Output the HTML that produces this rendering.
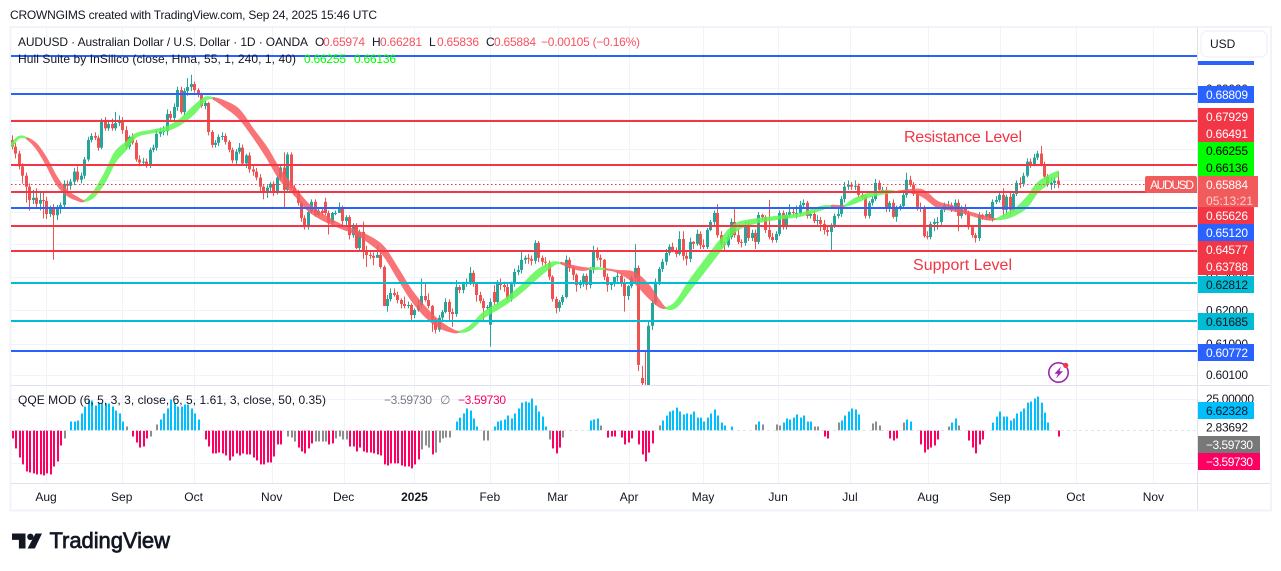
<!DOCTYPE html>
<html lang="en">
<head>
<meta charset="utf-8">
<title>AUDUSD chart</title>
<style>
html,body{margin:0;padding:0;background:#fff;}
svg{display:block;font-family:"Liberation Sans",sans-serif;}
text{fill:#131722;font-size:12px;}
.up{fill:#f7525f;}
.gr{fill:#00ff00;}
.ax{font-size:12px;}
</style>
</head>
<body>
<svg id="c" width="1281" height="571" viewBox="0 0 1281 571" xmlns="http://www.w3.org/2000/svg">
  <defs>
    <clipPath id="paneClip"><rect x="11" y="28" width="1186" height="357"/></clipPath>
  </defs>
  <text x="10" y="19" textLength="367">CROWNGIMS created with TradingView.com, Sep 24, 2025 15:46 UTC</text>
  <rect x="10.5" y="27" width="1260.5" height="483.5" fill="none" stroke="#f0f3fa" stroke-width="2"/>
  <g id="grid"></g>
  <g id="candles" clip-path="url(#paneClip)"></g>
  <g id="hull" clip-path="url(#paneClip)"></g>
  <g id="qqe"></g>
  <g id="hlines"></g>
  <line x1="11" x2="1197" y1="430.5" y2="430.5" stroke="#e0e3eb" stroke-dasharray="3 3"/>
  <line id="lastLine" x1="11" x2="1146" stroke="#f23645" stroke-dasharray="1.5 2.5"/>

  <line x1="11" x2="1197" y1="385.5" y2="385.5" stroke="#e0e3eb"/>
  <line x1="11" x2="1270" y1="483.5" y2="483.5" stroke="#e0e3eb"/>
  <line x1="1197.5" x2="1197.5" y1="28" y2="510" stroke="#e0e3eb"/>
  <line x1="1197" x2="1270" y1="385.5" y2="385.5" stroke="#e0e3eb"/>
  <g id="axisTicks"></g>
  <g id="timeLabels"></g>

  <g>
    <text x="18" y="46" textLength="290">AUDUSD · Australian Dollar / U.S. Dollar · 1D · OANDA</text>
    <text x="315" y="46">O</text>
    <text x="323" y="46" class="up" textLength="42">0.65974</text>
    <text x="372" y="46">H</text>
    <text x="380" y="46" class="up" textLength="42">0.66281</text>
    <text x="429" y="46">L</text>
    <text x="437" y="46" class="up" textLength="42">0.65836</text>
    <text x="486" y="46">C</text>
    <text x="494" y="46" class="up" textLength="42">0.65884</text>
    <text x="541" y="46" class="up" textLength="99">−0.00105 (−0.16%)</text>
    <text x="18" y="63" textLength="278">Hull Suite by InSilico (close, Hma, 55, 1, 240, 1, 40)</text>
    <text x="304" y="63" class="gr" textLength="42">0.66255</text>
    <text x="354" y="63" class="gr" textLength="42">0.66136</text>
  </g>
  <g>
    <text x="18" y="404" textLength="308">QQE MOD (6, 5, 3, 3, close, 6, 5, 1.61, 3, close, 50, 0.35)</text>
    <text x="384" y="404" textLength="48" style="fill:#787b86">−3.59730</text>
    <text x="440" y="404" style="fill:#787b86">∅</text>
    <text x="458" y="404" textLength="48" style="fill:#ff0062">−3.59730</text>
  </g>
  <text x="904" y="142" textLength="118" style="fill:#f23645;font-size:16px">Resistance Level</text>
  <text x="913" y="270" textLength="99" style="fill:#f23645;font-size:16px">Support Level</text>

  <g>
    <circle cx="1058.5" cy="372.5" r="9.7" fill="none" stroke="#9c27b0" stroke-width="1.6"/>
    <polygon points="1061,366.5 1054.5,373.8 1058,373.8 1056,378.5 1063,371.2 1059.4,371.2" fill="#9c27b0"/>
    <circle cx="1065.7" cy="365.4" r="2.6" fill="#f23645"/>
  </g>

  <g>
    <rect x="1201" y="31" width="66" height="26" rx="6" fill="#fff" stroke="#f0f3fa" stroke-width="1.5"/>
    <text x="1210" y="48">USD</text>
  </g>

  <g id="axisBoxes"></g>
  <rect x="1145" y="176" width="52" height="17" rx="2" fill="#f15b5b"/>
  <text x="1150" y="189" textLength="44" style="fill:#fff">AUDUSD</text>

  <g>
    <path d="M12 533.5h13.5v15h-6.6v-8.6H12z" fill="#131722"/>
    <circle cx="30.4" cy="536.8" r="3.2" fill="#131722"/>
    <polygon points="35.5,533.5 42,533.5 34.8,548.5 27.6,548.5" fill="#131722"/>
    <text x="49.5" y="548" textLength="120.5" style="font-size:22px;stroke:#131722;stroke-width:.7">TradingView</text>
  </g>
</svg>

<script>
const opens = [
.6730,.6708,.6686,.6645,.6615,.6580,.6538,.6545,.6526,.6538,
.6535,.6494,.6510,.6490,.6516,.6522,.6589,.6583,.6596,.6628,
.6602,.6615,.6667,.6730,.6743,.6737,.6705,.6789,.6768,.6782,
.6768,.6785,.6795,.6762,.6708,.6740,.6721,.6667,.6657,.6660,
.6651,.6698,.6705,.6750,.6759,.6759,.6815,.6802,.6838,.6894,
.6821,.6891,.6904,.6914,.6894,.6878,.6841,.6851,.6756,.6714,
.6721,.6740,.6743,.6724,.6698,.6664,.6692,.6705,.6654,.6680,
.6635,.6628,.6609,.6580,.6561,.6577,.6589,.6561,.6609,.6641,
.6570,.6683,.6577,.6564,.6529,.6481,.6453,.6500,.6532,.6491,
.6504,.6532,.6497,.6466,.6497,.6497,.6513,.6472,.6484,.6428,
.6456,.6388,.6438,.6376,.6367,.6364,.6358,.6367,.6330,.6212,
.6233,.6251,.6245,.6230,.6218,.6212,.6215,.6185,.6200,.6215,
.6242,.6230,.6212,.6171,.6141,.6177,.6194,.6224,.6194,.6188,
.6269,.6260,.6278,.6282,.6312,.6278,.6245,.6227,.6206,.6156,
.6254,.6224,.6282,.6275,.6269,.6236,.6278,.6315,.6321,.6352,
.6358,.6355,.6349,.6404,.6358,.6346,.6343,.6300,.6233,.6206,
.6224,.6239,.6352,.6327,.6306,.6275,.6282,.6303,.6275,.6321,
.6382,.6358,.6352,.6300,.6275,.6282,.6300,.6303,.6282,.6242,
.6272,.6297,.6327,.6000,.5975,.5950,.6153,.6221,.6285,.6324,
.6346,.6373,.6392,.6382,.6370,.6416,.6364,.6355,.6407,.6401,
.6432,.6397,.6391,.6444,.6469,.6497,.6428,.6401,.6397,.6422,
.6469,.6428,.6407,.6404,.6460,.6419,.6435,.6407,.6491,.6484,
.6444,.6422,.6413,.6432,.6497,.6453,.6491,.6500,.6497,.6497,
.6522,.6529,.6488,.6494,.6472,.6475,.6463,.6444,.6438,.6460,
.6488,.6494,.6541,.6580,.6586,.6580,.6583,.6554,.6548,.6488,
.6529,.6541,.6592,.6570,.6570,.6510,.6529,.6485,.6513,.6519,
.6554,.6602,.6586,.6557,.6516,.6510,.6425,.6422,.6463,.6469,
.6469,.6507,.6522,.6522,.6507,.6529,.6488,.6513,.6497,.6453,
.6428,.6419,.6491,.6484,.6494,.6481,.6532,.6538,.6554,.6507,
.6548,.6507,.6557,.6592,.6589,.6615,.6660,.6651,.6673,.6686,
.6651,.6612,.6586,.6592,.6599];
const highs = [
.6745,.6720,.6695,.6655,.6625,.6590,.6570,.6575,.6560,.6565,
.6548,.6520,.6525,.6522,.6530,.6600,.6600,.6605,.6640,.6645,
.6625,.6675,.6740,.6752,.6755,.6745,.6800,.6805,.6795,.6800,
.6822,.6810,.6805,.6775,.6745,.6752,.6730,.6680,.6672,.6670,
.6705,.6715,.6765,.6770,.6775,.6830,.6825,.6850,.6905,.6905,
.6900,.6934,.6945,.6922,.6900,.6885,.6860,.6855,.6762,.6730,
.6748,.6755,.6752,.6730,.6705,.6700,.6720,.6715,.6685,.6690,
.6650,.6640,.6620,.6585,.6585,.6595,.6597,.6615,.6650,.6690,
.6690,.6690,.6585,.6570,.6535,.6490,.6505,.6540,.6540,.6510,
.6515,.6545,.6505,.6500,.6505,.6530,.6520,.6490,.6490,.6465,
.6465,.6445,.6470,.6395,.6375,.6375,.6395,.6375,.6335,.6245,
.6265,.6265,.6255,.6235,.6240,.6225,.6220,.6205,.6230,.6295,
.6282,.6250,.6215,.6175,.6185,.6200,.6235,.6232,.6205,.6290,
.6275,.6285,.6295,.6330,.6320,.6285,.6255,.6235,.6215,.6235,
.6275,.6290,.6295,.6285,.6280,.6285,.6325,.6335,.6376,.6365,
.6370,.6365,.6412,.6410,.6365,.6360,.6350,.6305,.6240,.6230,
.6245,.6365,.6360,.6335,.6310,.6290,.6310,.6310,.6330,.6395,
.6390,.6368,.6355,.6310,.6285,.6295,.6315,.6310,.6295,.6275,
.6305,.6400,.6335,.6035,.6082,.6165,.6230,.6295,.6330,.6355,
.6385,.6400,.6405,.6390,.6440,.6440,.6375,.6420,.6410,.6445,
.6440,.6415,.6450,.6475,.6505,.6525,.6440,.6410,.6430,.6480,
.6510,.6445,.6415,.6470,.6470,.6445,.6445,.6500,.6495,.6490,
.6538,.6435,.6440,.6505,.6505,.6500,.6525,.6510,.6520,.6535,
.6540,.6535,.6500,.6505,.6490,.6485,.6475,.6455,.6465,.6495,
.6510,.6550,.6595,.6600,.6595,.6600,.6590,.6560,.6555,.6535,
.6550,.6605,.6600,.6580,.6580,.6535,.6540,.6520,.6525,.6565,
.6625,.6615,.6595,.6565,.6530,.6520,.6440,.6470,.6480,.6485,
.6515,.6530,.6535,.6530,.6540,.6540,.6520,.6525,.6505,.6460,
.6435,.6500,.6495,.6505,.6500,.6540,.6550,.6565,.6575,.6555,
.6560,.6565,.6600,.6610,.6625,.6670,.6670,.6685,.6695,.6711,
.6660,.6620,.6610,.6610,.6628];
const lows = [
.6700,.6670,.6635,.6590,.6530,.6505,.6525,.6510,.6505,.6480,
.6478,.6485,.6352,.6475,.6495,.6515,.6560,.6570,.6585,.6595,
.6590,.6605,.6660,.6722,.6730,.6695,.6700,.6760,.6760,.6760,
.6760,.6775,.6750,.6700,.6700,.6715,.6660,.6645,.6650,.6640,
.6640,.6690,.6695,.6740,.6745,.6745,.6790,.6790,.6825,.6815,
.6810,.6875,.6890,.6885,.6870,.6835,.6830,.6745,.6705,.6705,
.6710,.6730,.6715,.6690,.6655,.6650,.6685,.6650,.6640,.6625,
.6615,.6600,.6565,.6540,.6545,.6560,.6550,.6555,.6600,.6513,
.6560,.6570,.6550,.6520,.6470,.6445,.6445,.6495,.6485,.6485,
.6490,.6490,.6430,.6460,.6490,.6505,.6460,.6460,.6415,.6420,
.6385,.6380,.6355,.6330,.6355,.6335,.6360,.6325,.6212,.6195,
.6225,.6240,.6220,.6205,.6205,.6205,.6165,.6175,.6195,.6205,
.6225,.6205,.6135,.6130,.6135,.6170,.6190,.6170,.6150,.6180,
.6250,.6250,.6270,.6275,.6270,.6225,.6220,.6170,.6200,.6091,
.6215,.6215,.6260,.6255,.6225,.6225,.6270,.6305,.6310,.6340,
.6340,.6335,.6340,.6345,.6335,.6330,.6290,.6225,.6190,.6195,
.6215,.6235,.6315,.6290,.6255,.6265,.6270,.6260,.6265,.6310,
.6350,.6330,.6290,.6255,.6260,.6270,.6285,.6270,.6195,.6230,
.6265,.6285,.6020,.5940,.5915,.5915,.6140,.6215,.6275,.6315,
.6335,.6365,.6375,.6360,.6365,.6350,.6335,.6345,.6385,.6395,
.6385,.6385,.6385,.6440,.6460,.6420,.6390,.6380,.6390,.6415,
.6420,.6400,.6390,.6395,.6410,.6410,.6385,.6400,.6475,.6435,
.6415,.6405,.6405,.6425,.6445,.6445,.6485,.6490,.6480,.6490,
.6510,.6480,.6480,.6465,.6460,.6440,.6430,.6425,.6376,.6450,
.6480,.6485,.6530,.6570,.6570,.6570,.6545,.6540,.6480,.6480,
.6520,.6535,.6560,.6560,.6500,.6500,.6480,.6470,.6505,.6515,
.6545,.6580,.6550,.6505,.6500,.6420,.6415,.6415,.6440,.6445,
.6460,.6500,.6510,.6500,.6500,.6440,.6480,.6490,.6445,.6420,
.6405,.6410,.6475,.6475,.6475,.6470,.6525,.6530,.6485,.6490,
.6490,.6500,.6550,.6575,.6580,.6610,.6640,.6645,.6665,.6645,
.6605,.6580,.6570,.6575,.6575];
const closes = [
.6708,.6686,.6645,.6615,.6580,.6538,.6545,.6526,.6538,.6535,
.6494,.6510,.6490,.6516,.6522,.6589,.6583,.6596,.6628,.6602,
.6615,.6667,.6730,.6743,.6737,.6705,.6789,.6768,.6782,.6768,
.6785,.6795,.6762,.6708,.6740,.6721,.6667,.6657,.6660,.6651,
.6698,.6705,.6750,.6759,.6759,.6815,.6802,.6838,.6894,.6821,
.6891,.6904,.6914,.6894,.6878,.6841,.6851,.6756,.6714,.6721,
.6740,.6743,.6724,.6698,.6664,.6692,.6705,.6654,.6680,.6635,
.6628,.6609,.6580,.6561,.6577,.6589,.6561,.6609,.6641,.6570,
.6683,.6577,.6564,.6529,.6481,.6453,.6500,.6532,.6491,.6504,
.6497,.6497,.6466,.6497,.6497,.6513,.6472,.6484,.6428,.6456,
.6388,.6438,.6376,.6367,.6364,.6358,.6367,.6330,.6212,.6233,
.6251,.6245,.6230,.6218,.6212,.6215,.6185,.6200,.6215,.6242,
.6230,.6212,.6171,.6141,.6177,.6194,.6224,.6194,.6188,.6269,
.6260,.6278,.6282,.6312,.6278,.6245,.6227,.6206,.6209,.6224,
.6224,.6282,.6275,.6269,.6236,.6278,.6315,.6321,.6352,.6358,
.6355,.6349,.6404,.6358,.6346,.6343,.6300,.6233,.6206,.6224,
.6239,.6352,.6327,.6306,.6275,.6282,.6303,.6275,.6321,.6382,
.6358,.6352,.6300,.6275,.6282,.6300,.6303,.6282,.6242,.6272,
.6297,.6327,.6038,.5985,.5930,.6153,.6221,.6285,.6324,.6346,
.6373,.6392,.6382,.6370,.6416,.6364,.6355,.6407,.6401,.6432,
.6397,.6391,.6444,.6469,.6497,.6428,.6401,.6397,.6422,.6469,
.6428,.6407,.6404,.6460,.6419,.6435,.6407,.6491,.6484,.6444,
.6422,.6413,.6432,.6497,.6453,.6491,.6500,.6497,.6497,.6522,
.6529,.6488,.6494,.6472,.6475,.6463,.6444,.6438,.6460,.6488,
.6494,.6541,.6580,.6586,.6580,.6583,.6554,.6548,.6488,.6529,
.6541,.6592,.6570,.6570,.6510,.6529,.6485,.6513,.6519,.6554,
.6602,.6586,.6557,.6516,.6510,.6425,.6422,.6463,.6469,.6469,
.6507,.6522,.6522,.6507,.6529,.6488,.6513,.6497,.6453,.6428,
.6419,.6491,.6484,.6494,.6481,.6532,.6538,.6554,.6507,.6548,
.6507,.6557,.6592,.6589,.6615,.6660,.6651,.6673,.6686,.6651,
.6612,.6586,.6592,.6599,.6588];

const hullBars = [0,2,4,7,10,13,16,19,21,24,27,30,33,36,40,45,49,53,56,58,62,66,70,74,78,82,86,90,95,100,104,108,112,116,120,124,128,130,133,137,143,148,153,157,159,163,166,169,172,176,181,185,188,190,193,197,202,206,210,215,222,229,235,238,240,242,245,250,255,257,262,265,269,273,278,283,286,289,292,295,298,301,304];
const hullFast = [.6720,.6740,.6737,.6705,.6651,.6589,.6554,.6538,.6535,.6567,.6622,.6689,.6720,.6749,.6759,.6772,.6798,.6841,.6868,.6868,.6838,.6802,.6743,.6676,.6602,.6557,.6507,.6478,.6453,.6432,.6404,.6367,.6300,.6233,.6183,.6150,.6135,.6135,.6150,.6191,.6230,.6272,.6321,.6343,.6343,.6327,.6321,.6327,.6324,.6315,.6282,.6239,.6212,.6206,.6224,.6288,.6358,.6413,.6460,.6475,.6485,.6494,.6516,.6519,.6513,.6519,.6541,.6561,.6567,.6564,.6561,.6548,.6516,.6507,.6494,.6478,.6478,.6494,.6513,.6545,.6589,.6612,.6628];
const hullSlow = [.6711,.6737,.6737,.6717,.6670,.6609,.6567,.6545,.6535,.6551,.6596,.6660,.6698,.6740,.6753,.6762,.6782,.6818,.6858,.6868,.6855,.6828,.6765,.6705,.6631,.6577,.6526,.6494,.6463,.6441,.6422,.6391,.6327,.6260,.6209,.6168,.6141,.6135,.6141,.6177,.6215,.6254,.6300,.6333,.6343,.6333,.6327,.6324,.6324,.6318,.6312,.6275,.6230,.6206,.6209,.6260,.6327,.6382,.6438,.6463,.6478,.6488,.6507,.6519,.6519,.6519,.6529,.6551,.6561,.6564,.6570,.6567,.6532,.6519,.6500,.6485,.6478,.6481,.6494,.6516,.6561,.6589,.6615];

const qqeValues = [
-6.2,-14,-21.1,-26.5,-32,-32.8,-33.5,-34.3,-34.3,-35.1,
-33.5,-34.3,-28.1,-24.2,-11.7,-6.2,null,7,7,7.8,
13.3,18.7,23.4,23.4,19.5,21.1,21.1,21.1,21.1,18.7,
15.6,13.3,7,3.1,null,-4.7,-9.4,-13.3,-12.5,-6.2,
-4.7,null,4.7,8.6,13.3,17.2,24.2,21.1,18.7,18.7,
20.3,20.3,17.2,13.3,8.6,null,-7,-12.5,-17.9,-17.9,
-17.2,-17.9,-19.5,-23.4,-20.3,-17.9,-19.5,-17.9,-18.7,-18.7,
-21.1,-23.4,-26.5,-26.5,-25,-25,-20.3,-10.9,-10.9,null,
-4.7,-5.5,-8.6,-13.3,-16.4,-17.9,-14,-10.1,-8.6,-8.6,
-8.6,-8.6,-10.9,-10.1,-6.2,-4.7,-7,-7,-12.5,-12.5,
-16.4,-13.3,-16.4,-17.2,-17.2,-17.9,-18.7,-19.5,-26.5,-27.3,
-25.7,-25.7,-25.7,-27.3,-28.1,-28.1,-29.6,-26.5,-22.6,-14.8,
-11.7,-13.3,-18.7,-17.2,-9.4,-6.2,-5.5,-5.5,null,7,
10.1,13.3,17.2,15.6,9.4,3.1,null,-7.8,-7.8,null,
3.1,7,7.8,8.6,11.7,9.4,13.3,17.2,21.8,22.6,
21.8,25,19.5,14.8,10.9,3.1,-7,-14,-17.9,-13.3,
-5.5,null,null,null,null,null,null,null,7.8,8.6,
9.4,3.9,null,-5.5,-4.7,-4.7,null,-5.5,-10.9,-9.4,
-6.2,null,-10.9,-18.7,-24.2,-17.2,-10.1,null,3.9,7.8,
11.7,14.8,15.6,17.9,14.8,12.5,13.3,12.5,14.8,10.1,
10.1,7,10.1,13.3,16.4,11.7,6.2,3.9,null,3.1,
null,null,null,null,null,null,4.7,7,4.7,null,
null,null,4.7,3.9,6.2,9.4,8.6,10.1,12.5,10.1,
11.7,7,7,3.1,3.1,null,-4.7,-6.2,null,null,
6.2,7.8,11.7,14.8,17.2,16.4,12.5,null,null,null,
5.5,7,3.9,null,null,-6.2,-7.8,-6.2,null,6.2,
8.6,7,null,null,-10.9,-17.2,-14.8,-13.3,-11.7,-7,
null,null,3.1,6.2,9.4,3.9,null,null,-7.8,-13.3,
-17.9,-10.9,-7,null,null,6.2,10.9,14.8,10.9,10.9,
7.8,9.4,13.3,14.8,17.2,21.8,22.6,25,26.5,21.8,
14,6.2,null,null,-4.7];
const qqeNeutralBars = [15,33,40,42,80,81,82,88,89,90,91,94,95,96,97,119,120,121,123,124,125,126,127,137,138,156,160,171,188,216,218,222,223,233,234,240,250,251,252,259,272,275];

const levelBlue = [0.70082,0.68809,0.6512,0.60772];
const levelRed = [0.67929,0.66491,0.65626,0.64577,0.63788];
const levelTeal = [0.62812,0.61685];
const lastPrice = 0.65884;

const priceTicks = [0.69,0.68,0.67,0.66,0.65,0.64,0.63,0.62,0.61,0.601];
const priceTickLabels = ["0.69000","","","","","","0.63000","0.62000","0.61000","0.60100"];
const qqeTicks = [25,-25];
const qqeTickLabels = ["25.00000",""];
const timeBars = [9.9,31.9,52.8,75.5,96.4,117,138.9,158.6,179.4,200.9,222.7,243.6,266.3,287.2,309.2,331.8];
const timeLabels = ["Aug","Sep","Oct","Nov","Dec","2025","Feb","Mar","Apr","May","Jun","Jul","Aug","Sep","Oct","Nov"];

const NS = "http://www.w3.org/2000/svg";
function xOf(b){ return 12 + 3.44 * b; }
function yOf(p){ return 94 + 2073 * Math.log(0.68809 / p); }
function qY(v){ return 430.5 - v * 32 / 25; }
function mk(tag, parent, attrs){
  const el = document.createElementNS(NS, tag);
  for (const k in attrs) el.setAttribute(k, attrs[k]);
  parent.appendChild(el);
  return el;
}

/* grid */
const gridG = document.getElementById('grid');
timeBars.forEach(function(b){
  const gx = Math.round(xOf(b)) + 0.5;
  const el = mk('line', gridG, {x1:gx, x2:gx, y1:28, y2:483, stroke:'#f0f3fa'});
  
  
});
priceTicks.forEach(function(p){
  const gy = Math.round(yOf(p)) + 0.5;
  const el = mk('line', gridG, {x1:11, x2:1197, y1:gy, y2:gy, stroke:'#f0f3fa'});
  
  
});
qqeTicks.forEach(function(v){
  const gy = Math.round(qY(v)) + 0.5;
  const el = mk('line', gridG, {x1:11, x2:1197, y1:gy, y2:gy, stroke:'#f0f3fa'});
  
  
});

/* candles */
const cG = document.getElementById('candles');
closes.forEach(function(c, i){
  const o = opens[i], up = c >= o, col = up ? '#26a69a' : '#ef5350';
  const x = Math.round(xOf(i)) + 0.5;
  const w = mk('line', cG, {x1:x, x2:x, y1:yOf(highs[i]), y2:yOf(lows[i]), stroke:col, 'stroke-width':1});
  
  
  const top = yOf(Math.max(o, c)), bot = yOf(Math.min(o, c));
  const b = mk('rect', cG, {x:x - 1.5, y:top, width:3, height:Math.max(bot - top, 1), fill:col});
  
  
});

/* hull band: smooth through the sampled fast/slow values */
function hermite(bars, vals, k, t){
  const n = bars.length;
  const slope = function(j){
    const a = Math.max(0, j - 1), z = Math.min(n - 1, j + 1);
    return (vals[z] - vals[a]) / (bars[z] - bars[a]);
  };
  const h = bars[k + 1] - bars[k];
  const t2 = t * t, t3 = t2 * t;
  return (2*t3 - 3*t2 + 1) * vals[k] + (t3 - 2*t2 + t) * h * slope(k)
       + (-2*t3 + 3*t2) * vals[k + 1] + (t3 - t2) * h * slope(k + 1);
}
const hullG = document.getElementById('hull');
const samples = [];
for (let k = 0; k < hullBars.length - 1; k++) {
  for (let s = 0; s < 6; s++) {
    const t = s / 6;
    samples.push({
      x: xOf(hullBars[k] + (hullBars[k + 1] - hullBars[k]) * t),
      f: hermite(hullBars, hullFast, k, t),
      s: hermite(hullBars, hullSlow, k, t),
      rising: (hullFast[k] + (hullFast[k+1]-hullFast[k])*t) >= (hullSlow[k] + (hullSlow[k+1]-hullSlow[k])*t)
    });
  }
}
const lastH = hullBars.length - 1;
samples.push({x:xOf(hullBars[lastH]), f:hullFast[lastH], s:hullSlow[lastH], rising:hullFast[lastH] >= hullSlow[lastH]});
let runStart = 0;
function flushRun(a, b){
  const pts = [];
  for (let i = a; i <= b; i++) pts.push(samples[i].x + ',' + yOf(samples[i].f));
  for (let i = b; i >= a; i--) pts.push(samples[i].x + ',' + yOf(samples[i].s));
  const col = samples[a].rising ? '#5df753' : '#f95c5f';
  const el = mk('polygon', hullG, {
    points: pts.join(' '),
    fill: col,
    stroke: col,
    'stroke-width': 2,
    'stroke-linejoin': 'round',
    opacity: 0.85
  });
  
  
}
for (let i = 1; i < samples.length; i++) {
  if (samples[i].rising !== samples[runStart].rising || i === samples.length - 1) {
    flushRun(runStart, i);
    runStart = i;
  }
}

/* qqe histogram */
const qG = document.getElementById('qqe');
qqeValues.forEach(function(v, i){
  if (v === null) return;
  const col = qqeNeutralBars.indexOf(i) >= 0 ? '#8d8d8d' : (v > 0 ? '#00bfff' : '#ff0062');
  const y0 = qY(0), y1 = qY(v);
  const el = mk('rect', qG, {x:Math.round(xOf(i)), y:Math.min(y0, y1), width:2, height:Math.abs(y1 - y0), fill:col});
  
  
});

/* horizontal levels */
const lG = document.getElementById('hlines');
function drawLevels(list, col){
  list.forEach(function(p){
    const ly = Math.round(yOf(p));
    const el = mk('line', lG, {x1:11, x2:1197, y1:ly, y2:ly, stroke:col, 'stroke-width':2});
    
    
  });
}
drawLevels(levelBlue, '#2962ff');
drawLevels(levelRed, '#f23645');
drawLevels(levelTeal, '#00bcd4');
const lastLine = document.getElementById('lastLine');
lastLine.setAttribute('y1', Math.round(yOf(lastPrice)) + 0.5);
lastLine.setAttribute('y2', Math.round(yOf(lastPrice)) + 0.5);

/* axis tick labels */
const tkG = document.getElementById('axisTicks');
priceTicks.forEach(function(p, i){
  if (!priceTickLabels[i]) return;
  const el = mk('text', tkG, {x:1206, y:yOf(p) + 4.5, textLength:42, class:'ax'});
  el.textContent = priceTickLabels[i];
  
  
});
qqeTicks.forEach(function(v, i){
  if (!qqeTickLabels[i]) return;
  const el = mk('text', tkG, {x:1206, y:qY(v) + 4.5, textLength:48, class:'ax'});
  el.textContent = qqeTickLabels[i];
  
  
});
const q283 = mk('text', tkG, {x:1206, y:431.5, textLength:42, class:'ax'});
q283.textContent = '2.83692';



/* time labels */
const tG = document.getElementById('timeLabels');
timeBars.forEach(function(b, i){
  const el = mk('text', tG, {x:xOf(b), y:501, 'text-anchor':'middle', style: timeLabels[i] === '2025' ? 'font-weight:bold' : ''});
  el.textContent = timeLabels[i];
  
  
});

/* price-axis value boxes */
const axisBoxTexts = ["", "0.68809", "0.67929", "0.66491", "0.66255", "0.66136", "0.65884", "05:13:21", "0.65626", "0.65120", "0.64577", "0.63788", "0.62812", "0.61685", "0.60772", "6.62328", "−3.59730", "−3.59730"];
const axisBoxTop = [61, 86, 108, 125, 142, 159, 176, 192, 207, 224, 241, 258, 276, 313, 344, 402, 436, 453];
const axisBoxHeight = [4, 17, 17, 17, 17, 17, 16, 15, 17, 17, 17, 17, 17, 17, 17, 17, 17, 17];
const axisBoxWidth = [56, 56, 56, 56, 56, 56, 60, 60, 56, 56, 56, 56, 56, 56, 56, 56, 62, 62];
const axisBoxFill = ['#2962ff','#2962ff','#f23645','#f23645','#00ff00','#00ff00','#f15b5b','#f15b5b','#f23645','#2962ff','#f23645','#f23645','#00bcd4','#00bcd4','#2962ff','#00bfff','#787878','#ff0062'];
const axisBoxInk = ['#fff','#fff','#fff','#fff','#000','#000','#fff','#fbd0d0','#fff','#fff','#fff','#fff','#131722','#131722','#fff','#131722','#fff','#fff'];
const bG = document.getElementById('axisBoxes');
axisBoxTexts.forEach(function(t, i){
  const r = mk('rect', bG, {x:1198, y:axisBoxTop[i], width:axisBoxWidth[i], height:axisBoxHeight[i], fill:axisBoxFill[i]});
  
  
  if (!t) return;
  const el = mk('text', bG, {x:1206, y:axisBoxTop[i] + 13, textLength:t.length === 8 ? 47 : 42, style:'fill:' + axisBoxInk[i]});
  el.textContent = t;
  
  
});
</script>
</body>
</html>
